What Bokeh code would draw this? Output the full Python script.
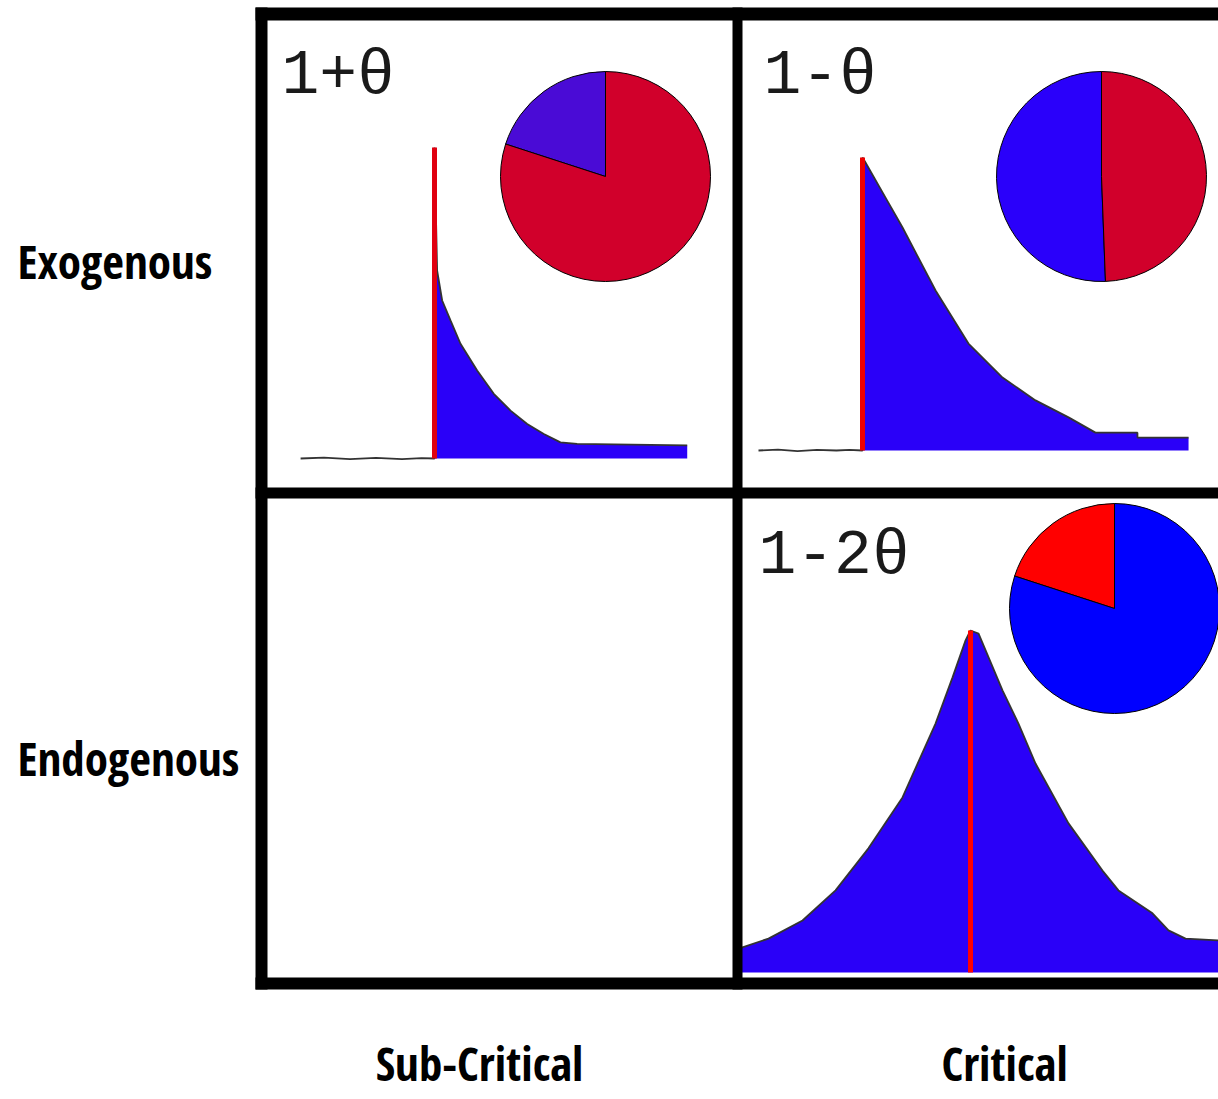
import numpy as np
from bokeh.plotting import figure
from bokeh.models import Range1d
from bokeh.core.properties import value
from bokeh.embed import file_html
from bokeh.resources import INLINE

# ---------------- data ----------------
row_labels = ["Exogenous", "Endogenous"]
col_labels = ["Sub-Critical", "Critical"]
panel_labels = ["1+θ", "1-θ", "1-2θ"]

# Panel A (exogenous, sub-critical): time (arbitrary units), normalised activity
a_pre_t = [-10.3, -8.5, -6.5, -4.5, -2.5, -1.0, 0.0]
a_pre_y = [0.0, 0.003, -0.002, 0.002, -0.002, 0.001, 0.0]
a_peak = 1.0
a_t = [0.0, 0.2, 0.59, 1.23, 2.0, 3.28, 4.56, 5.85, 7.13, 8.41, 9.69, 10.97, 19.44]
a_y = [0.62, 0.605, 0.508, 0.444, 0.369, 0.283, 0.208, 0.154, 0.111, 0.079, 0.052, 0.047, 0.042]
a_pie = [0.20, 0.80]

# Panel B (exogenous, critical)
b_pre_t = [-8.0, -6.5, -5.0, -3.5, -2.0, -1.0, 0.0]
b_pre_y = [0.0, 0.003, -0.002, 0.002, 0.0, 0.002, 0.0]
b_peak = 1.0
b_t = [0.0, 0.23, 1.77, 3.08, 5.62, 8.15, 10.77, 13.31, 15.85, 17.92, 21.15, 21.15, 25.08]
b_y = [0.99, 0.983, 0.863, 0.761, 0.546, 0.365, 0.249, 0.171, 0.113, 0.061, 0.061, 0.044, 0.044]
b_pie = [0.506, 0.494]

# Panel C (endogenous, critical)
c_t = [-17.6, -15.54, -12.92, -10.38, -7.85, -5.23, -2.69, -1.38, -0.38, 0.0,
       0.62, 2.46, 3.69, 5.0, 7.54, 10.15, 11.38, 14.0, 15.23, 16.54, 19.08]
c_y = [0.073, 0.099, 0.152, 0.240, 0.363, 0.512, 0.728, 0.863, 0.971, 1.0,
       0.991, 0.825, 0.728, 0.611, 0.436, 0.298, 0.240, 0.173, 0.123, 0.099, 0.094]
c_peak = 1.0
c_pie = [0.20, 0.80]

# ---------------- layout / style ----------------
W, H = 1218, 1099
PX0, PY0 = 0, 0                 # page offset of the canvas
def U(page_y):                  # page y (down) -> plot y (up)
    return PY0 + H - page_y

p = figure(width=W, height=H, x_range=Range1d(PX0, PX0 + W), y_range=Range1d(0, H),
           output_backend="svg", toolbar_location=None, min_border=0,
           x_axis_location=None, y_axis_location=None)
p.grid.visible = False
p.outline_line_color = None
p.background_fill_color = "white"
p.border_fill_color = "white"

BLUE = "#2a00f8"
TRACE = "#333333"

# panel mapping: (t=0 page x, px per time unit, baseline page y, peak page y)
maps = {
    "A": (434, 13.0, 458, 147),
    "B": (862, 13.0, 450, 157),
    "C": (970, 13.0, 972, 630),
}
for name, (t0, ppt, base, peak) in maps.items():
    h = base - peak
    p.extra_x_ranges[name] = Range1d((PX0 - t0) / ppt, (PX0 + W - t0) / ppt)
    p.extra_y_ranges[name] = Range1d((base - (PY0 + H)) / h, (base - PY0) / h)

def panel_curve(name, fill_t, fill_y, trace_t, trace_y, peak, red):
    kw = dict(x_range_name=name, y_range_name=name)
    p.varea(x=fill_t, y1=[0] * len(fill_t), y2=fill_y, fill_color=BLUE, **kw)
    p.line(x=trace_t, y=trace_y, line_color=TRACE, line_width=1.8, **kw)
    p.segment(x0=[0], y0=[0], x1=[0], y1=[peak], line_color=red, line_width=5, **kw)

panel_curve("A", a_t, a_y, a_pre_t + [0.0] + a_t[1:], a_pre_y + [a_peak] + a_y[1:], a_peak, "#e00010")
panel_curve("B", b_t, b_y, b_pre_t + [0.0] + b_t[1:], b_pre_y + [b_peak] + b_y[1:], b_peak, "#ee0000")
panel_curve("C", c_t, c_y, c_t, c_y, c_peak, "#ff0000")

# pies
pie_specs = [
    (a_pie, ["#4a0bd6", "#d1002b"], 605, 176),
    (b_pie, ["#2a00fa", "#d1002b"], 1101, 176),
    (c_pie, ["#ff0000", "#0000ff"], 1114, 608),
]
for fracs, cols, cx, cy in pie_specs:
    f = np.array(fracs, dtype=float)
    ends = np.pi / 2 + 2 * np.pi * np.cumsum(f)
    starts = ends - 2 * np.pi * f
    p.wedge(x=[cx] * len(f), y=[U(cy)] * len(f), radius=105, radius_units="screen",
            start_angle=list(starts), end_angle=list(ends), direction="anticlock",
            fill_color=cols, line_color="black", line_width=1)

# grid frame
bars = [  # left, right, top, bottom (page coords)
    (255, 1218, 7, 20),
    (255, 1218, 487, 498),
    (255, 1218, 977, 989),
    (255, 267, 7, 989),
    (732, 742, 7, 989),
]
p.quad(left=[b[0] for b in bars], right=[b[1] for b in bars],
       top=[U(b[2]) for b in bars], bottom=[U(b[3]) for b in bars],
       fill_color="black", line_color=None)

# text baseline compensation (svg text sits ~0.3 em lower than requested)
def TY(baseline_page_y, fs):
    return U(baseline_page_y - 0.3 * fs)

# panel labels
FS_P = 63
p.text(x=[281, 763, 758], y=[TY(95, FS_P), TY(95, FS_P), TY(575, FS_P)], text=panel_labels,
       text_font=value("Liberation Mono"), text_font_size=value(f"{FS_P}px"),
       text_color="#1a1a1a", text_align="left", text_baseline="alphabetic")

# row / column labels
LABEL_FONT = "Open Sans Condensed"
FS_R = 47
p.text(x=[17, 17], y=[TY(275, FS_R), TY(772, FS_R)], text=row_labels,
       text_font=value(LABEL_FONT), text_font_style="bold",
       text_font_size=value(f"{FS_R}px"), text_color="black",
       text_align="left", text_baseline="alphabetic")
FS_C = 47
p.text(x=[479, 1004], y=[TY(1077, FS_C), TY(1077, FS_C)], text=col_labels,
       text_font=value(LABEL_FONT), text_font_style="bold",
       text_font_size=value(f"{FS_C}px"), text_color="black",
       text_align="center", text_baseline="alphabetic")

open("out.html", "w").write(file_html(p, INLINE))
